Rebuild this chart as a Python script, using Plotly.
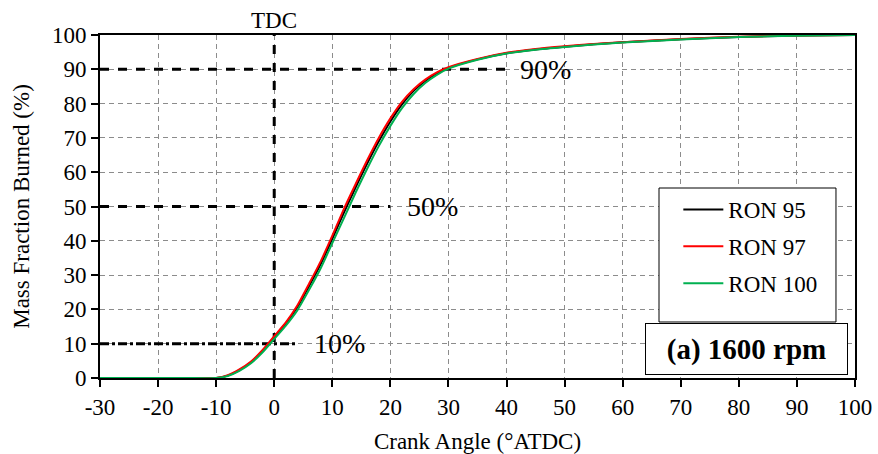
import plotly.graph_objects as go

# ---- data ----
crank_angle = [-30, -25, -20, -15, -10, -8, -6, -4, -2, 0, 2, 4, 6, 8, 10, 12, 14, 16, 18, 20,
               22, 24, 26, 28, 30, 35, 40, 45, 50, 55, 60, 70, 80, 90, 100]
ron95 = [0, 0, 0, 0, 0, 0.7, 2.3, 4.6, 7.9, 11.9, 15.9, 20.7, 26.8, 33.2, 40.6, 48.2, 55.5, 62.5, 69.0, 74.8,
         79.8, 83.7, 86.6, 88.8, 90.4, 92.9, 94.7, 95.8, 96.6, 97.3, 97.85, 98.75, 99.45, 99.82, 100]
ron97 = [0, 0, 0, 0, 0, 0.8, 2.5, 4.8, 8.2, 12.2, 16.2, 21.2, 27.5, 34.0, 41.5, 49.3, 56.5, 63.5, 70.0, 75.7,
         80.5, 84.2, 87.0, 89.1, 90.6, 93.0, 94.8, 95.9, 96.7, 97.4, 97.9, 98.8, 99.5, 99.85, 100]
ron100 = [0, 0, 0, 0, 0, 0.6, 2.1, 4.3, 7.5, 11.4, 15.3, 19.8, 25.7, 32.0, 39.3, 46.6, 54.0, 61.0, 67.6, 73.5,
          78.7, 82.8, 86.0, 88.4, 90.2, 92.8, 94.6, 95.7, 96.5, 97.2, 97.8, 98.7, 99.4, 99.8, 100]
series_names = ["RON 95", "RON 97", "RON 100"]
series_colors = ["#000000", "#ff0000", "#00b050"]

# reference markers (MFB levels and where their guide lines end)
mfb_levels = [90, 50, 10]
mfb_line_end = [40, 20, 4]
mfb_labels = ["90%", "50%", "10%"]
mfb_label_x = [42, 22.5, 6.5]
mfb_dash = ["dash", "dash", "dashdot"]
tdc_angle = 0

x_ticks = list(range(-30, 101, 10))
y_ticks = list(range(0, 101, 10))

FONT = "Liberation Serif"

fig = go.Figure()

# guide lines
for lvl, xe, dsh in zip(mfb_levels, mfb_line_end, mfb_dash):
    fig.add_trace(go.Scatter(x=[x_ticks[0], xe], y=[lvl, lvl], mode="lines",
                             line=dict(color="black", width=3, dash=dsh),
                             showlegend=False, hoverinfo="skip"))
fig.add_trace(go.Scatter(x=[tdc_angle, tdc_angle], y=[y_ticks[0], y_ticks[-1]], mode="lines",
                         line=dict(color="black", width=3, dash="dash"),
                         showlegend=False, hoverinfo="skip"))

# curves
for i, (name, ys, col) in enumerate(zip(series_names, [ron95, ron97, ron100], series_colors)):
    fig.add_trace(go.Scatter(x=crank_angle, y=ys, mode="lines", name=name,
                             line=dict(color=col, width=2, shape="spline", smoothing=0.6),
                             legendgroup=f"g{i}"))

annotations = []
for lab, lx, lvl in zip(mfb_labels, mfb_label_x, mfb_levels):
    annotations.append(dict(x=lx, y=lvl, xref="x", yref="y", text=lab, showarrow=False,
                            xanchor="left", yanchor="middle",
                            font=dict(family=FONT, size=28, color="black")))
annotations.append(dict(x=tdc_angle, y=1, xref="x", yref="paper", text="TDC", showarrow=False,
                        xanchor="center", yanchor="bottom", yshift=0,
                        font=dict(family=FONT, size=23, color="black")))
annotations.append(dict(x=0.856, y=0.085, xref="paper", yref="paper", text="<b>(a) 1600 rpm</b>",
                        showarrow=False, xanchor="center", yanchor="middle",
                        width=197, height=46, borderpad=2,
                        bordercolor="black", borderwidth=1, bgcolor="white",
                        font=dict(family=FONT, size=29, color="black")))

# legend frame (drawn as a box; the legend itself sits inside it)
legend_box = dict(type="rect", xref="paper", yref="paper",
                  x0=0.7404, x1=0.9748, y0=0.1633, y1=0.5539,
                  line=dict(color="black", width=1), fillcolor="white", layer="above")

fig.update_layout(
    width=878, height=454,
    margin=dict(l=100, r=23, t=35, b=76),
    paper_bgcolor="white", plot_bgcolor="white",
    font=dict(family=FONT, size=23, color="black"),
    showlegend=True,
    legend=dict(x=0.766, y=0.554, xanchor="left", yanchor="top",
                bgcolor="rgba(0,0,0,0)", borderwidth=0,
                font=dict(family=FONT, size=23, color="black"),
                tracegroupgap=4, itemwidth=40),
    annotations=annotations,
    shapes=[legend_box],
)
fig.update_xaxes(range=[x_ticks[0], x_ticks[-1]], tickvals=x_ticks, ticktext=[str(v) for v in x_ticks],
                 showline=True, linecolor="black", linewidth=2, mirror=True,
                 ticks="outside", ticklen=7, tickcolor="black", tickwidth=1.5,
                 showgrid=True, gridcolor="#8c8c8c", gridwidth=1, griddash="5px,4px",
                 zeroline=False, automargin=False,
                 title=dict(text="Crank Angle (°ATDC)", standoff=14,
                            font=dict(family=FONT, size=23)),
                 tickfont=dict(family=FONT, size=23))
fig.update_yaxes(range=[y_ticks[0], y_ticks[-1]], tickvals=y_ticks, ticktext=[str(v) for v in y_ticks],
                 showline=True, linecolor="black", linewidth=2, mirror=True,
                 ticks="outside", ticklen=7, tickcolor="black", tickwidth=1.5,
                 showgrid=True, gridcolor="#8c8c8c", gridwidth=1, griddash="5px,4px",
                 zeroline=False, automargin=False,
                 title=dict(text="Mass Fraction Burned (%)", standoff=16,
                            font=dict(family=FONT, size=23)),
                 tickfont=dict(family=FONT, size=23))

fig.write_html("out.html")
